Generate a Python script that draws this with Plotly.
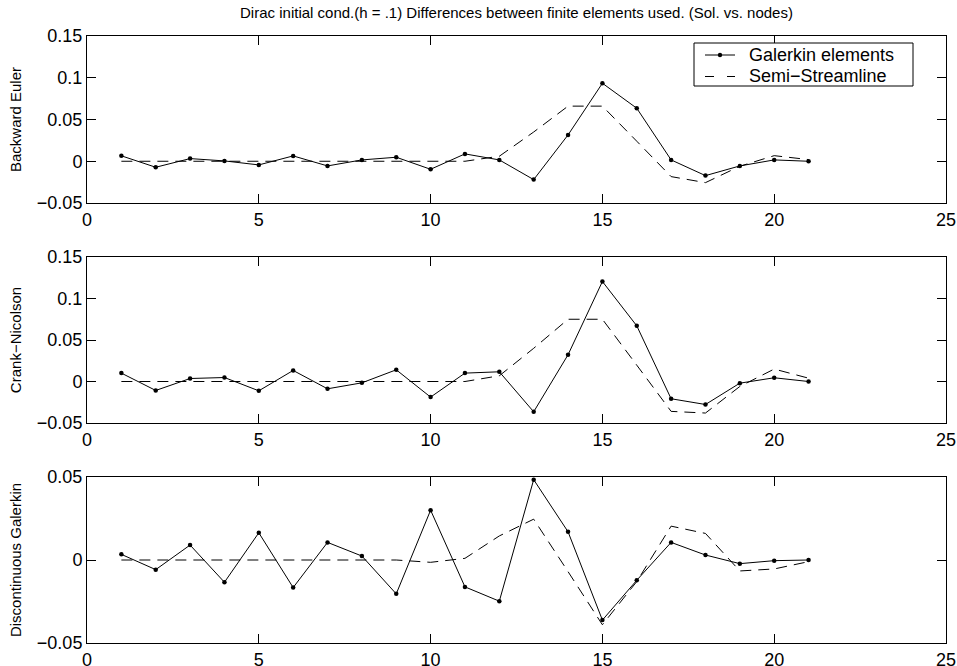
import plotly.graph_objects as go
from plotly.subplots import make_subplots

nodes = list(range(1, 22))

# Backward Euler
be_galerkin = [0.0065, -0.0072, 0.0032, 0.0004, -0.0044, 0.0064, -0.0056, 0.0016, 0.0048, -0.0096,
               0.0088, 0.0016, -0.022, 0.0315, 0.0934, 0.0635, 0.0016, -0.0172, -0.0056, 0.0016, 0.0]
be_stream = [0.0, 0.0, 0.0, 0.0, 0.0, 0.0, 0.0, 0.0, 0.0, 0.0,
             0.0, 0.006, 0.035, 0.066, 0.066, 0.024, -0.0184, -0.0256, -0.006, 0.0067, 0.002]

# Crank-Nicolson
cn_galerkin = [0.0101, -0.0108, 0.0036, 0.0048, -0.0112, 0.0133, -0.0088, -0.0016, 0.0141, -0.0188,
               0.0101, 0.0117, -0.0365, 0.0322, 0.1205, 0.0671, -0.0208, -0.0277, -0.002, 0.0045, 0.0]
cn_stream = [0.0, 0.0, 0.0, 0.0, 0.0, 0.0, 0.0, 0.0, 0.0, 0.0,
             0.0, 0.0069, 0.04, 0.075, 0.075, 0.0197, -0.036, -0.038, -0.006, 0.015, 0.004]

# Discontinuous Galerkin
dg_galerkin = [0.0034, -0.0058, 0.009, -0.0134, 0.0164, -0.0166, 0.0106, 0.0024, -0.0204, 0.030,
               -0.0162, -0.0248, 0.0484, 0.017, -0.0362, -0.0122, 0.0106, 0.003, -0.0022, -0.0004, 0.0]
dg_stream = [0.0, 0.0, 0.0, 0.0, 0.0, 0.0, 0.0, 0.0, 0.0, -0.0014,
             0.001, 0.0145, 0.0246, -0.007, -0.039, -0.013, 0.0204, 0.016, -0.0066, -0.0054, -0.001]

panel_labels = ["Backward Euler", "Crank\u2212Nicolson", "Discontinuous Galerkin"]
series_names = ["Galerkin elements", "Semi\u2212Streamline"]
title_text = "Dirac initial cond.(h = .1) Differences between finite elements used. (Sol. vs. nodes)"

x_ticks = [0, 5, 10, 15, 20, 25]
y_ticks_big = [-0.05, 0, 0.05, 0.1, 0.15]
y_ticktext_big = ["\u22120.05", "0", "0.05", "0.1", "0.15"]
y_ticks_small = [-0.05, 0, 0.05]
y_ticktext_small = ["\u22120.05", "0", "0.05"]

FONT = "Liberation Sans, Arial, Helvetica, sans-serif"
DASH = "11px,7px"

fig = make_subplots(rows=3, cols=1)

data = [(be_galerkin, be_stream), (cn_galerkin, cn_stream), (dg_galerkin, dg_stream)]
for i, (g, s) in enumerate(data, start=1):
    fig.add_trace(go.Scatter(x=nodes, y=g, mode="lines+markers", name=series_names[0],
                             line=dict(color="black", width=1),
                             marker=dict(color="black", size=4.5),
                             showlegend=False), row=i, col=1)
    fig.add_trace(go.Scatter(x=nodes, y=s, mode="lines", name=series_names[1],
                             line=dict(color="black", width=1, dash=DASH),
                             showlegend=False), row=i, col=1)

W, H = 957, 666
ML, MR, MT, MB = 87, 11, 36, 23
PW = W - ML - MR
PH = H - MT - MB
PLOT_BOTTOM = H - MB


def py(page_y):
    return (PLOT_BOTTOM - page_y) / PH


def px(page_x):
    return (page_x - ML) / PW


domains = [[py(203), py(36)], [py(423), py(257)], [py(643), py(477)]]

axis_common = dict(showline=True, linecolor="black", linewidth=1, mirror="ticks",
                   ticks="inside", ticklen=9, tickcolor="black", showgrid=False,
                   zeroline=False, tickfont=dict(family=FONT, size=18, color="black"))

for i in range(3):
    fig.update_xaxes(range=[0, 25], tickvals=x_ticks, **axis_common, row=i + 1, col=1)
    if i < 2:
        yt, ytt, yr = y_ticks_big, y_ticktext_big, [-0.05, 0.15]
    else:
        yt, ytt, yr = y_ticks_small, y_ticktext_small, [-0.05, 0.05]
    fig.update_yaxes(range=yr, tickvals=yt, ticktext=ytt, domain=domains[i],
                     title=dict(text=panel_labels[i], standoff=11,
                                font=dict(family=FONT, size=15, color="black")),
                     **axis_common, row=i + 1, col=1)

# Legend box (drawn like the MATLAB legend)
shapes = []
annotations = []
shapes.append(dict(type="rect", xref="paper", yref="paper",
                   x0=px(694), x1=px(913), y0=py(86), y1=py(43),
                   line=dict(color="black", width=1), fillcolor="white", layer="above"))
row_y = [55, 76.5]
shapes.append(dict(type="line", xref="paper", yref="paper",
                   x0=px(705), x1=px(735), y0=py(row_y[0]), y1=py(row_y[0]),
                   line=dict(color="black", width=1), layer="above"))
shapes.append(dict(type="circle", xref="paper", yref="paper",
                   xsizemode="pixel", ysizemode="pixel",
                   xanchor=px(720), yanchor=py(row_y[0]),
                   x0=-2.2, x1=2.2, y0=-2.2, y1=2.2,
                   line=dict(color="black", width=0), fillcolor="black", layer="above"))
shapes.append(dict(type="line", xref="paper", yref="paper",
                   x0=px(705), x1=px(735), y0=py(row_y[1]), y1=py(row_y[1]),
                   line=dict(color="black", width=1, dash="9px,13px"), layer="above"))
for name, yy in zip(series_names, row_y):
    annotations.append(dict(text=name, xref="paper", yref="paper",
                            x=px(747), y=py(yy), xanchor="left", yanchor="middle",
                            showarrow=False,
                            font=dict(family=FONT, size=18, color="black")))

fig.update_layout(
    width=W, height=H,
    margin=dict(l=ML, r=MR, t=MT, b=MB, autoexpand=False),
    paper_bgcolor="white", plot_bgcolor="white",
    title=dict(text=title_text, x=516.5 / W, xanchor="center",
               y=1 - 13 / H, yanchor="middle",
               font=dict(family=FONT, size=15, color="black")),
    showlegend=False,
    shapes=shapes,
    annotations=annotations,
)

fig.write_html("out.html",
               config={"displayModeBar": False},
               post_script="document.body.style.margin='0';document.body.style.overflow='hidden';")
